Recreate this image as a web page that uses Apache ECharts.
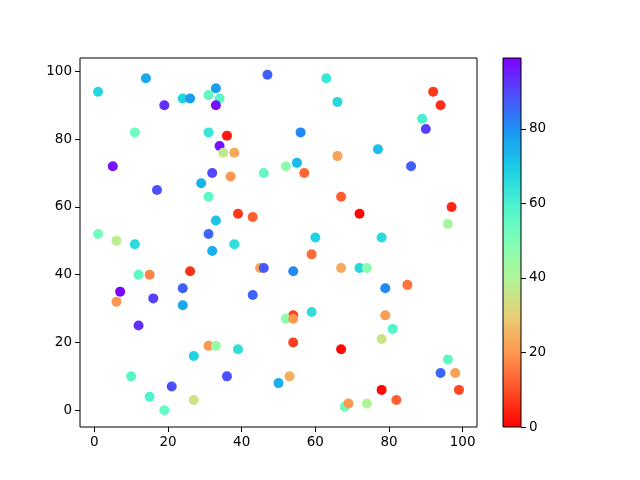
<!DOCTYPE html>
<html>
<head>
<meta charset="UTF-8">
<title>scatter</title>
<script src="https://cdn.jsdelivr.net/npm/echarts@6/dist/echarts.min.js"></script>
<style>
html,body{margin:0;padding:0;background:#fff;}
#main{width:640px;height:480px;}
</style>
</head>
<body>
<div id="main"></div>
<script>
// point data: x, y, colour value
var xs = [1,14,47,19,24,26,31,33,34,33,11,31,36,34,35,38,5,32,46,29,37,17,31,39,43,33,1,6,31,11,38,
          63,66,92,94,89,90,56,77,66,52,55,57,86,67,72,97,96,60,78,
          32,12,15,26,45,46,7,6,16,24,24,43,12,31,33,39,27,10,36,50,21,15,27,19,
          59,54,67,72,74,79,85,54,52,54,59,79,81,78,54,67,96,94,98,53,99,78,82,68,69,74];
var ys = [94,98,99,90,92,92,93,95,92,90,82,82,81,78,76,76,72,70,70,67,69,65,63,58,57,56,52,50,52,49,49,
          98,91,94,90,86,83,82,77,75,72,73,70,72,63,58,60,55,51,51,
          47,40,40,41,42,42,35,32,33,36,31,34,25,19,19,18,16,10,10,8,7,4,3,0,
          46,41,42,42,42,36,37,28,27,27,29,28,24,21,20,18,15,11,11,10,6,6,3,1,2,2];
var cs = [67,76,87,93,68,78,55,78,57,97,53,63,3,97,37,23,97,90,55,74,20,89,56,7,12,71,52,38,86,66,65,
          63,67,7,6,60,91,81,72,22,47,73,13,87,12,1,5,42,68,66,
          75,56,17,6,22,88,99,20,91,87,76,86,93,20,45,65,68,57,89,75,89,59,35,55,
          14,81,23,67,48,81,15,8,47,20,65,21,58,35,8,1,56,86,22,24,9,1,12,53,20,40];

var xTicks = [0,20,40,60,80,100];
var yTicks = [0,20,40,60,80,100];
var cTicks = [0,20,40,60,80];
var cMin = 0, cMax = 99;

// rainbow_r colour stops, low -> high
var rainbow = ['#ff0000','#ff4f28','#ff964f','#e6ce74','#b3f396','#80ffb4',
               '#4df3ce','#1acee3','#1a96f3','#4d4ffc','#8000ff'];

var points = [];
for (var i = 0; i < xs.length; i++) {
    points.push([xs[i], ys[i], cs[i]]);
}

var gradStops = [];
for (var k = 0; k < rainbow.length; k++) {
    gradStops.push({offset: 1 - k / (rainbow.length - 1), color: rainbow[k]});
}

var font = 'DejaVu Sans';
var myChart = echarts.init(document.getElementById('main'));

myChart.setOption({
    backgroundColor: '#fff',
    animation: false,
    grid: [
        {left: 80, right: 163, top: 58, bottom: 53, show: true, borderColor: '#000', borderWidth: 1, backgroundColor: 'transparent'},
        {left: 503, width: 18, top: 58, bottom: 53, show: true, borderColor: '#000', borderWidth: 1, backgroundColor: 'transparent', z: 5}
    ],
    visualMap: {
        show: false,
        type: 'continuous',
        seriesIndex: 0,
        dimension: 2,
        min: cMin,
        max: cMax,
        inRange: {color: rainbow}
    },
    xAxis: [
        {
            gridIndex: 0, type: 'value', min: -3.9, max: 103.9,
            splitLine: {show: false},
            axisLine: {show: false, onZero: false},
            axisTick: {show: true, length: 5, customValues: xTicks, lineStyle: {color: '#000'}},
            axisLabel: {customValues: xTicks, color: '#000', fontFamily: font, fontSize: 13.5, margin: 8}
        },
        {
            gridIndex: 1, type: 'category', data: [''],
            show: false
        }
    ],
    yAxis: [
        {
            gridIndex: 0, type: 'value', min: -4.95, max: 103.95,
            splitLine: {show: false},
            axisLine: {show: false, onZero: false},
            axisTick: {show: true, length: 5, customValues: yTicks, lineStyle: {color: '#000'}},
            axisLabel: {customValues: yTicks, color: '#000', fontFamily: font, fontSize: 13.5, margin: 8}
        },
        {
            gridIndex: 1, type: 'value', position: 'right', min: cMin, max: cMax,
            splitLine: {show: false},
            axisLine: {show: false, onZero: false},
            axisTick: {show: true, length: 5, customValues: cTicks, lineStyle: {color: '#000'}},
            axisLabel: {customValues: cTicks, color: '#000', fontFamily: font, fontSize: 13.5, margin: 8}
        }
    ],
    series: [
        {
            type: 'scatter',
            xAxisIndex: 0, yAxisIndex: 0,
            symbolSize: 10,
            itemStyle: {opacity: 1},
            data: points
        },
        {
            type: 'bar',
            xAxisIndex: 1, yAxisIndex: 1,
            barWidth: '100%',
            silent: true,
            data: [cMax],
            itemStyle: {
                color: new echarts.graphic.LinearGradient(0, 0, 0, 1, gradStops)
            }
        }
    ]
});
</script>
</body>
</html>
